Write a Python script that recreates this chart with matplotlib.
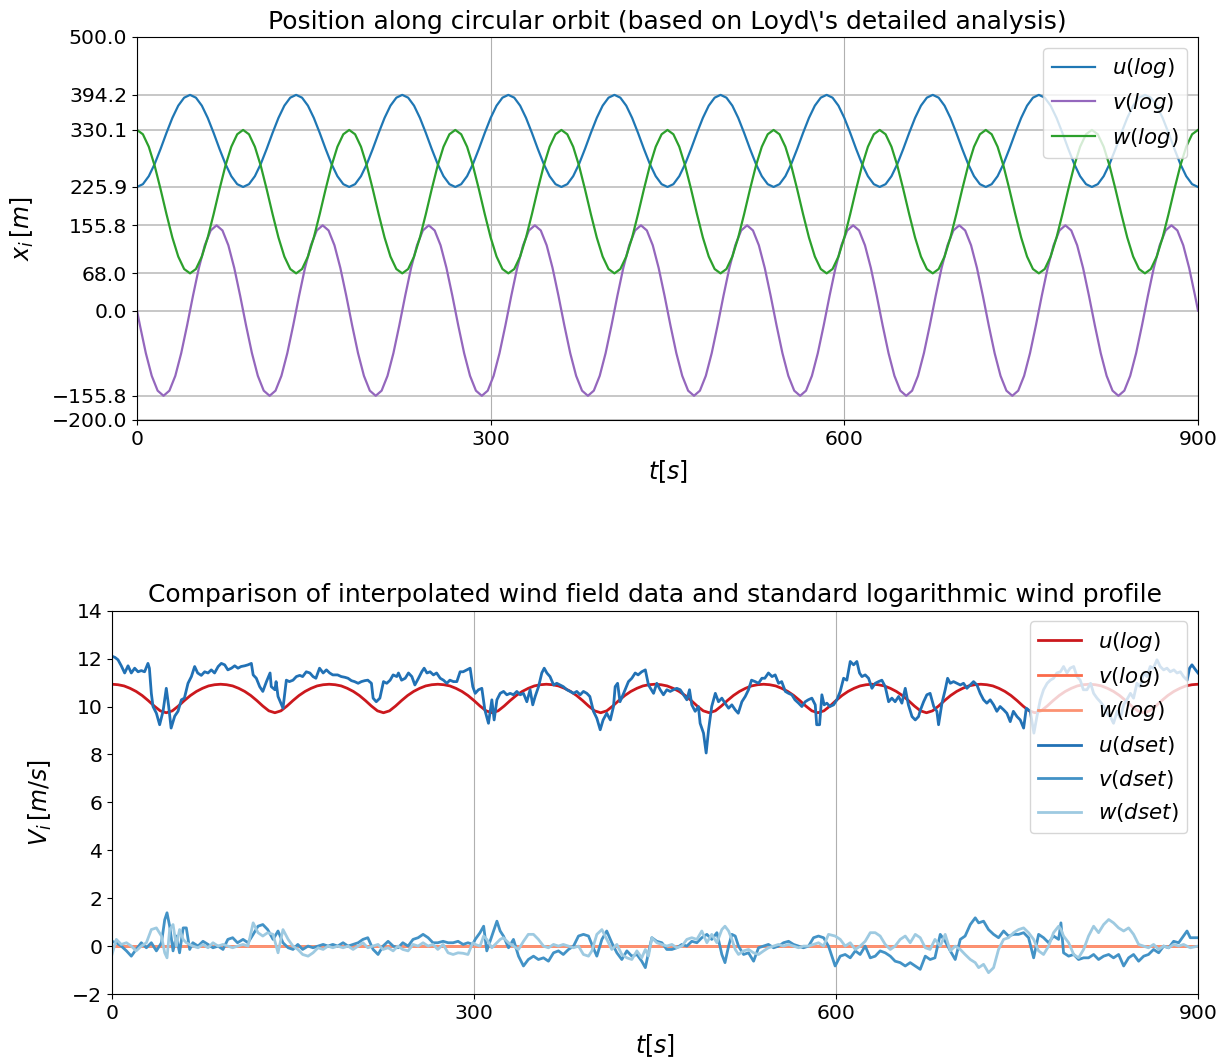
import numpy as np
import matplotlib
matplotlib.use('Agg')
import matplotlib.pyplot as plt

# ---------------- data: top panel (orbit positions, sampled every 5 s) ----------------
t_pos = np.arange(0, 901, 5)
u_pos = [
    225.9, 231.0, 245.6, 268.0, 295.4, 324.7, 352.1, 374.5, 389.1, 394.2, 389.1, 374.5, 352.1, 324.7, 295.4, 268.0, 245.6, 231.0,
    225.9, 231.0, 245.6, 268.0, 295.4, 324.7, 352.1, 374.5, 389.1, 394.2, 389.1, 374.5, 352.1, 324.7, 295.4, 268.0, 245.6, 231.0,
    225.9, 231.0, 245.6, 268.0, 295.4, 324.7, 352.1, 374.5, 389.1, 394.2, 389.1, 374.5, 352.1, 324.7, 295.4, 268.0, 245.6, 231.0,
    225.9, 231.0, 245.6, 268.0, 295.4, 324.7, 352.1, 374.5, 389.1, 394.2, 389.1, 374.5, 352.1, 324.7, 295.4, 268.0, 245.6, 231.0,
    225.9, 231.0, 245.6, 268.0, 295.4, 324.7, 352.1, 374.5, 389.1, 394.2, 389.1, 374.5, 352.1, 324.7, 295.4, 268.0, 245.6, 231.0,
    225.9, 231.0, 245.6, 268.0, 295.4, 324.7, 352.1, 374.5, 389.1, 394.2, 389.1, 374.5, 352.1, 324.7, 295.4, 268.0, 245.6, 231.0,
    225.9, 231.0, 245.6, 268.0, 295.4, 324.7, 352.1, 374.5, 389.1, 394.2, 389.1, 374.5, 352.1, 324.7, 295.4, 268.0, 245.6, 231.0,
    225.9, 231.0, 245.6, 268.0, 295.4, 324.7, 352.1, 374.5, 389.1, 394.2, 389.1, 374.5, 352.1, 324.7, 295.4, 268.0, 245.6, 231.0,
    225.9, 231.0, 245.6, 268.0, 295.4, 324.7, 352.1, 374.5, 389.1, 394.2, 389.1, 374.5, 352.1, 324.7, 295.4, 268.0, 245.6, 231.0,
    225.9, 231.0, 245.6, 268.0, 295.4, 324.7, 352.1, 374.5, 389.1, 394.2, 389.1, 374.5, 352.1, 324.7, 295.4, 268.0, 245.6, 231.0,
    225.9,
]
w_pos = [
    330.1, 322.2, 299.4, 264.6, 221.8, 176.3, 133.5, 98.7, 75.9, 68.0, 75.9, 98.7, 133.5, 176.3, 221.8, 264.6, 299.4, 322.2,
    330.1, 322.2, 299.4, 264.6, 221.8, 176.3, 133.5, 98.7, 75.9, 68.0, 75.9, 98.7, 133.5, 176.3, 221.8, 264.6, 299.4, 322.2,
    330.1, 322.2, 299.4, 264.6, 221.8, 176.3, 133.5, 98.7, 75.9, 68.0, 75.9, 98.7, 133.5, 176.3, 221.8, 264.6, 299.4, 322.2,
    330.1, 322.2, 299.4, 264.6, 221.8, 176.3, 133.5, 98.7, 75.9, 68.0, 75.9, 98.7, 133.5, 176.3, 221.8, 264.6, 299.4, 322.2,
    330.1, 322.2, 299.4, 264.6, 221.8, 176.3, 133.5, 98.7, 75.9, 68.0, 75.9, 98.7, 133.5, 176.3, 221.8, 264.6, 299.4, 322.2,
    330.1, 322.2, 299.4, 264.6, 221.8, 176.3, 133.5, 98.7, 75.9, 68.0, 75.9, 98.7, 133.5, 176.3, 221.8, 264.6, 299.4, 322.2,
    330.1, 322.2, 299.4, 264.6, 221.8, 176.3, 133.5, 98.7, 75.9, 68.0, 75.9, 98.7, 133.5, 176.3, 221.8, 264.6, 299.4, 322.2,
    330.1, 322.2, 299.4, 264.6, 221.8, 176.3, 133.5, 98.7, 75.9, 68.0, 75.9, 98.7, 133.5, 176.3, 221.8, 264.6, 299.4, 322.2,
    330.1, 322.2, 299.4, 264.6, 221.8, 176.3, 133.5, 98.7, 75.9, 68.0, 75.9, 98.7, 133.5, 176.3, 221.8, 264.6, 299.4, 322.2,
    330.1, 322.2, 299.4, 264.6, 221.8, 176.3, 133.5, 98.7, 75.9, 68.0, 75.9, 98.7, 133.5, 176.3, 221.8, 264.6, 299.4, 322.2,
    330.1,
]
# v is sampled half a step later (2.5 s + 5 s steps) so that its extremes are hit
t_v_pos = np.concatenate([[0.0], np.arange(2.5, 900, 5), [900.0]])
v_pos = [0.0] + [
    -27.1, -77.9, -119.3, -146.4, -155.8, -146.4, -119.3, -77.9, -27.1, 27.1, 77.9, 119.3, 146.4, 155.8, 146.4, 119.3, 77.9, 27.1,
    -27.1, -77.9, -119.3, -146.4, -155.8, -146.4, -119.3, -77.9, -27.1, 27.1, 77.9, 119.3, 146.4, 155.8, 146.4, 119.3, 77.9, 27.1,
    -27.1, -77.9, -119.3, -146.4, -155.8, -146.4, -119.3, -77.9, -27.1, 27.1, 77.9, 119.3, 146.4, 155.8, 146.4, 119.3, 77.9, 27.1,
    -27.1, -77.9, -119.3, -146.4, -155.8, -146.4, -119.3, -77.9, -27.1, 27.1, 77.9, 119.3, 146.4, 155.8, 146.4, 119.3, 77.9, 27.1,
    -27.1, -77.9, -119.3, -146.4, -155.8, -146.4, -119.3, -77.9, -27.1, 27.1, 77.9, 119.3, 146.4, 155.8, 146.4, 119.3, 77.9, 27.1,
    -27.1, -77.9, -119.3, -146.4, -155.8, -146.4, -119.3, -77.9, -27.1, 27.1, 77.9, 119.3, 146.4, 155.8, 146.4, 119.3, 77.9, 27.1,
    -27.1, -77.9, -119.3, -146.4, -155.8, -146.4, -119.3, -77.9, -27.1, 27.1, 77.9, 119.3, 146.4, 155.8, 146.4, 119.3, 77.9, 27.1,
    -27.1, -77.9, -119.3, -146.4, -155.8, -146.4, -119.3, -77.9, -27.1, 27.1, 77.9, 119.3, 146.4, 155.8, 146.4, 119.3, 77.9, 27.1,
    -27.1, -77.9, -119.3, -146.4, -155.8, -146.4, -119.3, -77.9, -27.1, 27.1, 77.9, 119.3, 146.4, 155.8, 146.4, 119.3, 77.9, 27.1,
    -27.1, -77.9, -119.3, -146.4, -155.8, -146.4, -119.3, -77.9, -27.1, 27.1, 77.9, 119.3, 146.4, 155.8, 146.4, 119.3, 77.9, 27.1,
] + [0.0]

pos_yticks = [500.0, 394.2, 330.1, 225.9, 155.8, 68.0, 0.0, -155.8, -200.0]
time_ticks = [0, 300, 600, 900]

# ---------------- data: bottom panel (wind speeds) ----------------
u_log = [
    10.93, 10.91, 10.86, 10.76, 10.63, 10.46, 10.25, 10.02, 9.82, 9.74, 9.82, 10.02, 10.25, 10.46, 10.63, 10.76, 10.86, 10.91,
    10.93, 10.91, 10.86, 10.76, 10.63, 10.46, 10.25, 10.02, 9.82, 9.74, 9.82, 10.02, 10.25, 10.46, 10.63, 10.76, 10.86, 10.91,
    10.93, 10.91, 10.86, 10.76, 10.63, 10.46, 10.25, 10.02, 9.82, 9.74, 9.82, 10.02, 10.25, 10.46, 10.63, 10.76, 10.86, 10.91,
    10.93, 10.91, 10.86, 10.76, 10.63, 10.46, 10.25, 10.02, 9.82, 9.74, 9.82, 10.02, 10.25, 10.46, 10.63, 10.76, 10.86, 10.91,
    10.93, 10.91, 10.86, 10.76, 10.63, 10.46, 10.25, 10.02, 9.82, 9.74, 9.82, 10.02, 10.25, 10.46, 10.63, 10.76, 10.86, 10.91,
    10.93, 10.91, 10.86, 10.76, 10.63, 10.46, 10.25, 10.02, 9.82, 9.74, 9.82, 10.02, 10.25, 10.46, 10.63, 10.76, 10.86, 10.91,
    10.93, 10.91, 10.86, 10.76, 10.63, 10.46, 10.25, 10.02, 9.82, 9.74, 9.82, 10.02, 10.25, 10.46, 10.63, 10.76, 10.86, 10.91,
    10.93, 10.91, 10.86, 10.76, 10.63, 10.46, 10.25, 10.02, 9.82, 9.74, 9.82, 10.02, 10.25, 10.46, 10.63, 10.76, 10.86, 10.91,
    10.93, 10.91, 10.86, 10.76, 10.63, 10.46, 10.25, 10.02, 9.82, 9.74, 9.82, 10.02, 10.25, 10.46, 10.63, 10.76, 10.86, 10.91,
    10.93, 10.91, 10.86, 10.76, 10.63, 10.46, 10.25, 10.02, 9.82, 9.74, 9.82, 10.02, 10.25, 10.46, 10.63, 10.76, 10.86, 10.91,
    10.93,
]
v_log = [0.0] * len(t_pos)
w_log = [0.0] * len(t_pos)

# (time, value) readings of the interpolated data set
u_dset = [
    (0, 12.1), (2.5, 12.05), (5, 11.95), (7.7, 11.7), (10.5, 11.4), (13.3, 11.7), (16, 11.4), (18.8, 11.6),
    (21.6, 11.45), (24.3, 11.5), (27, 11.45), (29.8, 11.8), (31, 11.6), (32.6, 10.55), (34, 10.0), (36.8, 9.72),
    (39.5, 9.24), (42.3, 9.8), (45, 10.76), (47, 10.0), (49, 9.1), (52, 9.6), (54.7, 9.8), (57.5, 10.28),
    (60, 10.35), (63, 10.97), (65.8, 11.25), (68.5, 11.67), (71, 11.4), (74, 11.3), (76.8, 11.45), (79.6, 11.4),
    (82.3, 11.53), (85, 11.4), (88, 11.67), (90.6, 11.8), (93.4, 11.74), (96, 11.53), (99, 11.6), (101.7, 11.7),
    (104.4, 11.6), (107, 11.67), (110, 11.7), (112.7, 11.74), (115.5, 11.8), (117, 11.32), (119.6, 11.18),
    (122.4, 10.83), (125, 10.63), (128, 11.04), (131, 11.4), (132, 10.83), (135, 10.7), (136, 11.04),
    (137.6, 10.42), (140, 10.14), (141.7, 9.93), (144.5, 11.1), (147, 11.04), (150, 11.1), (152.8, 11.25),
    (155.6, 11.3), (158, 11.25), (161, 11.45), (164, 11.4), (166.6, 11.25), (169, 11.18), (172, 11.6),
    (175, 11.4), (177.7, 11.53), (180.4, 11.4), (183, 11.32), (187, 11.32), (190, 11.25), (193, 11.22),
    (195.6, 11.18), (198.4, 11.08), (201, 11.04), (204, 10.97), (206.7, 11.04), (209.5, 11.08), (212, 11.1),
    (215, 10.97), (216.4, 10.35), (219, 10.2), (222, 10.35), (225, 11.04), (227.7, 10.97), (230.5, 11.1),
    (233, 11.32), (236, 11.25), (237.4, 11.4), (240, 11.1), (243, 11.18), (245.7, 11.4), (248.5, 11.25),
    (251, 10.9), (254, 11.18), (256.7, 11.45), (258.7, 11.6), (261, 11.4), (263.6, 11.45), (266.4, 11.32),
    (269, 11.4), (272, 11.18), (274.7, 11.1), (277.5, 10.97), (280, 11.1), (283, 11.04), (285.8, 11.04),
    (288.5, 11.45), (291, 11.45), (294, 11.53), (296.8, 11.6), (299, 10.83), (301, 10.55), (303.7, 10.7),
    (306.5, 10.76), (309, 9.86), (312, 9.3), (314.8, 10.28), (316.7, 9.44), (319, 10.28), (321.7, 10.55),
    (324.5, 10.63), (327.2, 10.49), (330, 10.55), (332.7, 10.49), (335.5, 10.63), (338.3, 10.49), (341, 10.55),
    (343.8, 10.2), (346.5, 10.7), (348.7, 10.07), (350.7, 10.42), (353.5, 10.83), (356.2, 11.4), (358.2, 11.6),
    (360.4, 11.4), (363, 11.25), (366, 10.9), (368.6, 10.97), (371.4, 10.9), (374, 10.83), (377, 10.7),
    (379.7, 10.63), (382.5, 10.55), (385.2, 10.63), (388, 10.49), (390.7, 10.63), (393.5, 10.55), (396, 10.42),
    (399, 9.8), (401.8, 9.51), (404.6, 9.03), (407, 9.44), (410, 9.72), (413, 9.44), (415.6, 10.0), (417, 10.83),
    (419, 10.97), (421, 10.2), (424, 10.55), (428, 11.04), (430.8, 11.18), (433.6, 11.4), (436, 11.32),
    (439, 11.45), (442, 11.53), (444.6, 10.9), (448.8, 10.55), (451.5, 10.97), (454.3, 10.7), (457, 10.49),
    (459.8, 10.7), (462.6, 10.63), (465.3, 10.7), (468, 10.76), (470.9, 10.7), (473.6, 10.49), (476.4, 10.28),
    (478.6, 10.7), (480.5, 10.07), (483.3, 9.8), (486, 10.0), (487.4, 9.3), (490.2, 8.89), (492.4, 8.06),
    (494.4, 9.03), (497, 10.0), (500, 10.55), (502.6, 10.2), (505.4, 10.35), (508, 10.14), (511, 9.93),
    (513.7, 10.07), (516.5, 9.86), (519, 9.72), (522, 10.2), (524.8, 10.42), (527.5, 10.7), (530, 11.1),
    (533, 11.04), (535.8, 10.97), (538.6, 11.18), (541, 11.18), (544, 11.4), (547, 11.25), (549.6, 11.32),
    (552.4, 10.97), (555, 11.04), (558, 10.63), (560.7, 10.55), (563.4, 10.49), (566, 10.28), (569, 10.14),
    (571.7, 10.0), (574.5, 10.2), (577, 10.28), (580, 10.35), (582.8, 10.07), (584, 9.24), (586.4, 9.24),
    (588.3, 10.49), (590.2, 10.07), (592.4, 10.14), (595, 10.0), (598, 10.07), (600.7, 10.28), (603.5, 10.63),
    (606.3, 11.18), (609, 11.1), (611.8, 11.88), (614.6, 11.74), (617.3, 11.88), (619.5, 11.4), (621.5, 11.25),
    (624.2, 11.32), (627, 11.18), (629.8, 10.76), (632.5, 10.97), (635.3, 11.04), (638, 11.1), (640.8, 10.83),
    (643.6, 10.2), (646.3, 10.35), (649, 10.2), (651.9, 10.42), (654.6, 10.14), (657.4, 10.76), (660, 10.07),
    (663, 9.58), (665.7, 9.44), (668.4, 9.58), (670, 9.86), (672.6, 10.2), (675.3, 10.49), (678, 10.55),
    (681, 10.0), (683.6, 9.8), (685, 9.24), (687.8, 10.14), (690.5, 10.7), (692.5, 11.18), (694.7, 10.97),
    (697.4, 11.04), (700.2, 10.97), (703, 10.9), (705.7, 10.97), (708.5, 10.76), (711.2, 10.9), (714, 11.04),
    (716.8, 10.9), (719.5, 10.55), (722.3, 10.28), (725, 10.14), (727.8, 10.28), (730.6, 10.07), (733.3, 9.8),
    (736, 10.0), (739, 9.86), (741.6, 9.72), (744.4, 9.37), (747, 9.8), (750, 9.58), (752.7, 9.44), (755.5, 9.1),
    (757.7, 9.93), (761, 9.8), (764, 8.89), (766.5, 9.58), (769.3, 10.28), (772, 10.7), (775, 10.97),
    (777.6, 11.1), (780.3, 11.18), (783, 11.4), (786, 11.45), (788.6, 11.67), (791.4, 11.4), (794, 11.6),
    (797, 11.67), (799.7, 11.25), (802.4, 11.1), (805, 10.7), (808, 10.7), (811, 10.97), (813.5, 10.55),
    (816.3, 10.35), (819, 10.2), (822, 10.0), (824.5, 9.72), (827.3, 9.58), (830, 9.3), (833, 9.8),
    (835.6, 9.51), (838.4, 10.07), (841, 10.28), (844, 10.55), (846.6, 10.35), (849.4, 10.97), (852, 10.83),
    (855, 11.4), (857.7, 11.25), (860.4, 11.67), (863, 11.6), (866, 11.95), (868.7, 11.67), (871.5, 11.53),
    (874.3, 11.6), (877, 11.45), (880, 11.53), (882.6, 11.4), (885.4, 11.45), (888, 11.25), (891, 11.1),
    (893, 11.6), (895, 11.74), (898, 11.53), (900, 11.4),
]
v_dset = [
    (0, 0.2), (3.6, 0.14), (7.7, 0.0), (12, -0.2), (16, -0.42), (20, -0.14), (24.3, 0.14), (28.5, -0.07),
    (32.6, 0.14), (36.8, -0.2), (41, 0.14), (43.7, 1.1), (45.6, 1.39), (47.8, 0.83), (50.6, -0.2), (53.3, 0.42),
    (56, -0.28), (59, 0.76), (61.6, 0.76), (64.4, -0.14), (67, 0.14), (71.3, 0.0), (75.4, 0.2), (79.6, 0.07),
    (83.7, -0.07), (87.9, 0.0), (92, -0.14), (96, 0.28), (100, 0.35), (104, 0.14), (108.6, 0.28), (112.7, 0.14),
    (117, 0.49), (121, 0.83), (125, 0.9), (129, 0.69), (133.5, 0.28), (137.6, 0.63), (141.7, 0.14), (146, -0.07),
    (150, -0.14), (154, 0.07), (158, -0.14), (162.5, 0.0), (166.6, -0.07), (170.8, 0.0), (175, 0.07), (179, 0.0),
    (183, 0.07), (187, 0.0), (191.5, 0.14), (195.6, 0.0), (199.8, 0.07), (204, 0.14), (208, 0.28), (212, 0.35),
    (216.4, -0.14), (220.5, -0.35), (224.6, 0.0), (228.8, 0.2), (233, 0.0), (237, -0.07), (241, 0.14), (245.4, 0.0),
    (249.5, 0.28), (253.7, 0.35), (257.8, 0.49), (262, 0.35), (266, 0.14), (270, 0.14), (274.4, 0.2), (278.5, 0.14),
    (282.7, 0.14), (286.8, 0.2), (291, 0.07), (295, 0.14), (299, 0.07),
    (301, 0.28), (305, 0.56), (308, 0.83), (310.6, -0.2), (314.8, 0.42), (319, 1.04), (321.7, 0.63), (324.4, 0.42),
    (328.6, -0.07), (332.7, 0.28), (336.9, -0.42), (341, -0.83), (345, -0.56), (349.3, -0.42), (353.4, -0.56),
    (357.6, -0.49), (361.7, -0.63), (365.9, -0.28), (370, -0.2), (374, -0.35), (378.3, -0.14), (382.5, 0.0),
    (386.6, 0.42), (390.7, 0.49), (394.9, 0.42), (397.7, 0.07), (401.8, -0.42), (406, 0.28), (410, 0.63),
    (414.2, 0.14), (418.4, -0.28), (422.5, -0.56), (426.7, -0.2), (430.8, -0.42), (435, -0.35), (439, -0.63),
    (442, -0.9), (444.6, -0.28), (447.4, 0.35), (451.5, 0.2), (455.7, 0.14), (459.8, -0.14), (464, -0.14),
    (468, -0.07), (472.3, 0.07), (476.4, 0.0), (480.5, 0.2), (484.7, 0.14), (488.8, 0.35), (493, 0.49),
    (497, 0.28), (501.3, 0.56), (505.4, -0.35), (508, -0.69), (511, 0.0), (513.7, 0.49), (516.5, 0.42),
    (519.2, 0.0), (523.4, -0.35), (527.5, -0.28), (531.7, -0.63), (535.8, -0.07), (540, 0.0), (544, 0.07),
    (548.3, -0.07), (552.4, 0.0), (556.5, 0.14), (560.7, 0.2), (564.8, 0.07), (569, 0.0), (573, -0.07),
    (577.3, 0.0), (581.4, 0.35), (585.5, 0.42), (589.7, 0.35), (593.8, 0.0),
    (599.3, -0.83), (603.5, -0.42), (607.6, -0.35), (611.8, -0.49), (616, -0.2), (620, -0.35), (624.2, 0.0),
    (628.4, -0.49), (632.5, -0.42), (636.6, -0.2), (640.8, -0.28), (645, -0.42), (649, -0.63), (653.2, -0.69),
    (657.4, -0.83), (661.5, -0.69), (665.7, -0.83), (669.8, -0.97), (674, -0.42), (678, -0.56), (682, -0.49),
    (686.4, 0.49), (690.5, 0.2), (694.7, -0.2), (698.8, -0.56), (703, 0.28), (707, 0.42), (711.3, 0.9),
    (715.4, 1.18), (718.2, 0.97), (722.3, 1.04), (726.4, 0.69), (730.6, 0.49), (734.7, 0.35), (738.9, 0.63),
    (743, 0.42), (747.2, 0.49), (751.3, 0.49), (755.5, 0.56), (759.6, 0.35), (763.8, -0.49), (767.9, 0.49),
    (772, 0.35), (776.2, 0.14), (780.3, 0.42), (784.5, 0.28), (786.4, 0.97), (788.6, -0.28), (792.8, -0.42),
    (797, -0.35), (801, -0.56), (805.2, -0.49), (809.3, -0.49), (813.5, -0.35), (817.6, -0.56), (821.8, -0.42),
    (826, -0.35), (830, -0.49), (834.2, -0.35), (838.4, -0.83), (842.5, -0.49), (846.6, -0.35), (850.8, -0.63),
    (855, -0.42), (859, -0.35), (863.2, -0.14), (867.4, -0.28), (871.5, 0.0), (875.7, -0.07), (879.8, 0.2),
    (884, 0.14), (888, 0.42), (890.9, 0.63), (893.6, 0.35), (900, 0.35),
]
w_dset = [
    (0, -0.35), (3.6, 0.28), (7.7, 0.07), (12, 0.14), (16, 0.0), (20, -0.2), (24.3, 0.0), (28.5, 0.14),
    (32.6, 0.69), (36.8, 0.76), (41, 0.42), (43.7, -0.28), (45.6, -0.49), (47.8, 0.69), (50.6, 0.9), (53.3, 0.0),
    (56, 0.69), (59, 0.28), (61.6, 0.14), (64.4, 0.07), (67, 0.0), (71.3, -0.07), (75.4, 0.07), (79.6, -0.07),
    (83.7, 0.14), (87.9, 0.0), (92, 0.07), (96, 0.0), (100, -0.07), (104, 0.0), (108.6, 0.07), (112.7, 0.0),
    (117, 0.97), (121, 0.56), (125, 0.42), (129, 0.56), (133.5, 0.49), (137.6, -0.28), (141.7, 0.69), (146, 0.28),
    (150, 0.0), (154, -0.14), (158, -0.35), (162.5, -0.42), (166.6, -0.28), (170.8, -0.07), (175, -0.14), (179, 0.0),
    (183, -0.07), (187, 0.0), (191.5, -0.07), (195.6, 0.0), (199.8, -0.14), (204, 0.0), (208, 0.14), (212, -0.07),
    (216.4, 0.0), (220.5, 0.07), (224.6, -0.14), (228.8, -0.07), (233, -0.2), (237, 0.0), (241, -0.14),
    (245.4, -0.2), (249.5, 0.07), (253.7, 0.0), (257.8, 0.14), (262, 0.0), (266, 0.07), (270, -0.14),
    (274.4, 0.07), (278.5, -0.28), (282.7, -0.35), (286.8, -0.28), (291, -0.3), (295, -0.35), (299, 0.14),
    (301, 0.07), (305, 0.0), (308, 0.42), (310.6, 0.28), (314.8, -0.07), (319, 0.14), (321.7, 0.28),
    (324.4, 0.35), (328.6, 0.14), (332.7, 0.0), (336.9, -0.14), (341, 0.2), (345, 0.49), (349.3, 0.49),
    (353.4, 0.28), (357.6, 0.0), (361.7, -0.07), (365.9, 0.07), (370, 0.0), (374, 0.07), (378.3, 0.0),
    (382.5, -0.07), (386.6, 0.0), (390.7, -0.35), (394.9, -0.42), (397.7, -0.2), (401.8, 0.49), (406, 0.69),
    (410, 0.28), (414.2, -0.14), (418.4, 0.07), (422.5, -0.35), (426.7, -0.49), (430.8, -0.56), (435, -0.2),
    (439, -0.49), (442, -0.14), (444.6, -0.42), (447.4, 0.35), (451.5, 0.14), (455.7, 0.07), (459.8, 0.0),
    (464, 0.07), (468, -0.07), (472.3, 0.0), (476.4, 0.28), (480.5, 0.35), (484.7, 0.28), (488.8, 0.63),
    (493, 0.14), (497, 0.49), (501.3, 0.14), (505.4, 0.69), (508, 0.83), (511, 0.63), (513.7, 0.28),
    (516.5, -0.14), (519.2, -0.35), (523.4, -0.2), (527.5, -0.14), (531.7, -0.28), (535.8, -0.35), (540, -0.2),
    (544, -0.07), (548.3, 0.0), (552.4, 0.07), (556.5, 0.0), (560.7, 0.07), (564.8, 0.0), (569, -0.07),
    (573, 0.0), (577.3, 0.0), (581.4, 0.07), (585.5, 0.14), (589.7, 0.0), (593.8, 0.49),
    (599.3, 0.42), (603.5, 0.28), (607.6, 0.0), (611.8, 0.14), (616, -0.14), (620, 0.0), (624.2, 0.2),
    (628.4, 0.56), (632.5, 0.56), (636.6, 0.42), (640.8, 0.07), (645, -0.14), (649, 0.0), (653.2, 0.28),
    (657.4, 0.42), (661.5, 0.14), (665.7, 0.49), (669.8, 0.35), (674, -0.07), (678, -0.14), (682, 0.28),
    (686.4, 0.0), (690.5, 0.49), (694.7, -0.2), (698.8, 0.0), (703, -0.14), (707, -0.35), (711.3, -0.56),
    (715.4, -0.69), (718.2, -0.9), (722.3, -0.76), (726.4, -1.11), (730.6, -0.9), (734.7, -0.14), (738.9, 0.28),
    (743, 0.35), (747.2, 0.56), (751.3, 0.69), (755.5, 0.76), (759.6, 0.56), (763.8, 0.28), (767.9, -0.2),
    (772, -0.35), (776.2, 0.0), (780.3, 0.56), (784.5, 0.83), (786.4, 0.7), (788.6, 0.42), (792.8, 0.14),
    (797, -0.35), (801, -0.49), (805.2, -0.14), (809.3, 0.42), (813.5, 0.83), (817.6, 0.56), (821.8, 0.9),
    (826, 1.11), (830, 0.97), (834.2, 0.76), (838.4, 0.63), (842.5, 0.76), (846.6, 0.49), (850.8, 0.07),
    (855, 0.0), (859, -0.07), (863.2, 0.07), (867.4, -0.14), (871.5, 0.0), (875.7, -0.07), (879.8, 0.07),
    (884, 0.0), (888, 0.07), (890.9, 0.0), (893.6, -0.07), (900, 0.0),
]
wind_yticks = [-2, 0, 2, 4, 6, 8, 10, 12, 14]

# ---------------- figure ----------------
fig = plt.figure(figsize=(12.32, 10.63), dpi=100)
ax1 = fig.add_axes([0.1112, 0.6049, 0.8612, 0.3603])
ax2 = fig.add_axes([0.0909, 0.0649, 0.8815, 0.3606])

TICK_FS = 14.7
TITLE_FS = 18
LABEL_FS = 17
LEGEND_FS = 15.4

# top panel
ax1.plot(t_pos, u_pos, color='#1f77b4', lw=1.6, label=r'$u(log)$')
ax1.plot(t_v_pos, v_pos, color='#9467bd', lw=1.6, label=r'$v(log)$')
ax1.plot(t_pos, w_pos, color='#2ca02c', lw=1.6, label=r'$w(log)$')
ax1.set_xlim(0, 900)
ax1.set_ylim(-200, 500)
ax1.set_xticks(time_ticks)
ax1.set_yticks(pos_yticks)
ax1.set_yticklabels([f'{v:.1f}'.replace('-', '\u2212') for v in pos_yticks])
ax1.yaxis.grid(True, color='#bdbdbd', lw=1.2)
ax1.xaxis.grid(True, color='#b0b0b0', lw=0.8)
ax1.set_axisbelow(True)
ax1.set_title("Position along circular orbit (based on Loyd\\'s detailed analysis)", fontsize=TITLE_FS)
ax1.set_xlabel(r'$t[s]$', fontsize=LABEL_FS, labelpad=7)
ax1.set_ylabel(r'$x_i\,[m]$', fontsize=LABEL_FS, labelpad=11)
ax1.tick_params(labelsize=TICK_FS)
ax1.legend(loc='upper right', fontsize=LEGEND_FS)

# bottom panel
ax2.plot(t_pos, u_log, color='#cb181d', lw=2.0, label=r'$u(log)$')
ax2.plot(t_pos, v_log, color='#fb6a4a', lw=2.0, label=r'$v(log)$')
ax2.plot(t_pos, w_log, color='#fc9272', lw=2.0, label=r'$w(log)$')
tu, uu = zip(*u_dset)
tv, vv = zip(*v_dset)
tw, ww = zip(*w_dset)
ax2.plot(tu, uu, color='#2171b5', lw=2.0, label=r'$u(dset)$')
ax2.plot(tv, vv, color='#4292c6', lw=2.0, label=r'$v(dset)$')
ax2.plot(tw, ww, color='#9ecae1', lw=2.0, label=r'$w(dset)$')
ax2.set_xlim(0, 900)
ax2.set_ylim(-2, 14)
ax2.set_xticks(time_ticks)
ax2.set_yticks(wind_yticks)
ax2.xaxis.grid(True, color='#b0b0b0', lw=0.8)
ax2.set_axisbelow(True)
ax2.set_title('Comparison of interpolated wind field data and standard logarithmic wind profile', fontsize=TITLE_FS)
ax2.set_xlabel(r'$t[s]$', fontsize=LABEL_FS, labelpad=7)
ax2.set_ylabel(r'$V_i\,[m/s]$', fontsize=LABEL_FS, labelpad=13)
ax2.tick_params(labelsize=TICK_FS)
ax2.legend(loc='upper right', fontsize=LEGEND_FS)

fig.savefig('out.png', dpi=100)
